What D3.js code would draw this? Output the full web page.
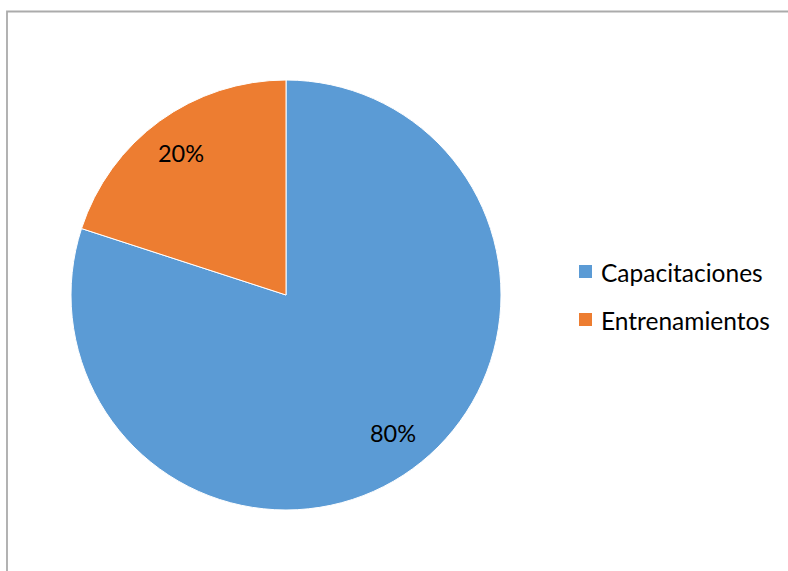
<!DOCTYPE html>
<html>
<head>
<meta charset="utf-8">
<script src="https://cdn.jsdelivr.net/npm/d3@7"></script>
<style>
  html, body { margin: 0; padding: 0; background: #fff; }
  svg { display: block; }
  text { font-family: Lato, "Open Sans", "DejaVu Sans", sans-serif; fill: #000; }
</style>
</head>
<body>
<svg id="chart" width="788" height="571"></svg>
<script>
// Chart data
const categories = ["Capacitaciones", "Entrenamientos"];
const values = [80, 20];
const valueLabels = ["80%", "20%"];
const colors = ["#5B9BD5", "#ED7D31"];

const svg = d3.select("#chart");
const W = 788, H = 571;

// Chart area frame (open on the right and bottom edges of the window)
svg.append("path")
  .attr("d", `M7,${H + 5} V11.5 H${W + 5}`)
  .attr("fill", "none")
  .attr("stroke", "#ababab")
  .attr("stroke-width", 1.8);

const cx = 286, cy = 295, r = 215;

const pie = d3.pie().sort(null).value(d => d.value);
const arcs = pie(categories.map((c, i) => ({ name: c, value: values[i], label: valueLabels[i], color: colors[i] })));

const arc = d3.arc().innerRadius(0).outerRadius(r);
const labelArc = d3.arc().innerRadius(r * 0.815).outerRadius(r * 0.815);

const g = svg.append("g").attr("transform", `translate(${cx},${cy})`);

g.selectAll("path.slice")
  .data(arcs)
  .join("path")
  .attr("class", "slice")
  .attr("d", arc)
  .attr("fill", d => d.data.color)
  .attr("stroke", "#ffffff")
  .attr("stroke-width", 1);

g.selectAll("text.val")
  .data(arcs)
  .join("text")
  .attr("class", "val")
  .attr("transform", d => {
    const [x, y] = labelArc.centroid(d);
    return `translate(${x + (x > 0 ? 4 : -2)},${y - (y > 0 ? 3 : -1)})`;
  })
  .attr("text-anchor", "middle")
  .attr("dy", "0.35em")
  .attr("font-size", 23.5)
  .text(d => d.data.label);

// Legend
const legend = svg.append("g").attr("transform", "translate(579,265)");
const item = legend.selectAll("g.item")
  .data(categories)
  .join("g")
  .attr("class", "item")
  .attr("transform", (d, i) => `translate(0,${i * 48})`);

item.append("rect")
  .attr("width", 13)
  .attr("height", 13)
  .attr("fill", (d, i) => colors[i]);

item.append("text")
  .attr("x", 22)
  .attr("y", 16.5)
  .attr("font-size", 24.5)
  .text(d => d);
</script>
</body>
</html>
